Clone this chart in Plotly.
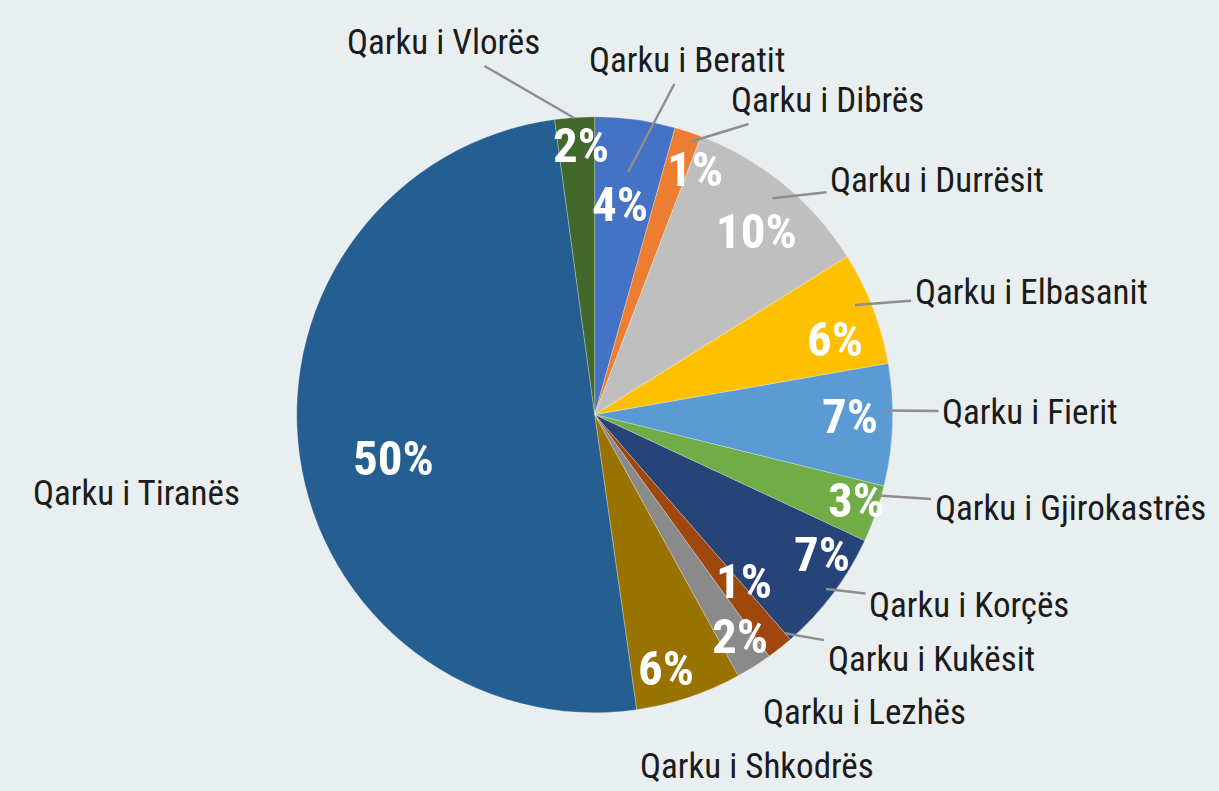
import numpy as np
import plotly.graph_objects as go

# ---------------- data ----------------
regions = ["Qarku i Beratit", "Qarku i Dibrës", "Qarku i Durrësit", "Qarku i Elbasanit",
           "Qarku i Fierit", "Qarku i Gjirokastrës", "Qarku i Korçës", "Qarku i Kukësit",
           "Qarku i Lezhës", "Qarku i Shkodrës", "Qarku i Tiranës", "Qarku i Vlorës"]
shares = [4.35, 1.45, 10.3, 6.15, 6.6, 3.1, 6.65, 1.45, 1.95, 5.75, 50.1, 2.15]

# ---------------- style ----------------
colors = ["#4472c4", "#ed7d31", "#bfbfbf", "#ffc000", "#5b9bd5", "#70ad47",
          "#264478", "#9e480e", "#8a8a8a", "#997300", "#255e91", "#43682b"]
W, H = 1219, 791
CX, CY, R = 594.7, 414.7, 298.0          # pie centre / radius in px
BG = "#e9eef1"

# percent-label placement (radial factor, angle shift in deg)
pct_rf = [0.709, 0.89, 0.82, 0.846, 0.857, 0.922, 0.895, 0.752, 0.891, 0.886, 0.692, 0.906]
pct_dt = [-0.9, 3.9, 1.9, 3.5, -1.5, -1.3, -5.5, -3.3, -0.9, 2.8, -4.2, 1.0]
# outside-label text centres (px) and leader-line anchors (radial factor, angle shift)
lab_xy = [(687, 60), (827, 100), (937, 180), (1031, 292), (1030, 412), (1070, 508),
          (969, 605), (931, 659), (864, 712), (757, 766), (136, 493), (443, 42)]
lead_rf = [0.823, 0.971, 0.94, 0.948, 0.974, 0.978, 0.972, 0.972, None, None, None, 0.997]
lead_dt = [0.0, 1.1, 0.0, -1.9, -2.8, -3.4, 0.0, -2.6, 0, 0, 0, 0.0]

vals = np.array(shares, dtype=float)
total = vals.sum()
start = np.cumsum(vals) - vals
mid_deg = (start + vals / 2) / total * 360.0
pct_text = [f"{int(round(v / total * 100))}%" for v in vals]


def polar(rf, deg):
    t = np.radians(deg)
    return CX + rf * R * np.sin(t), CY - rf * R * np.cos(t)


fig = go.Figure()
fig.add_trace(go.Pie(
    labels=regions, values=shares, sort=False, direction="clockwise", rotation=0,
    marker=dict(colors=colors, line=dict(color="rgba(255,255,255,0.45)", width=0.6)),
    textinfo="none", hoverinfo="label+percent", showlegend=False,
    domain=dict(x=[(CX - R) / W, (CX + R) / W], y=[1 - (CY + R) / H, 1 - (CY - R) / H]),
))
fig.add_trace(go.Scatter(x=[], y=[], showlegend=False, hoverinfo="skip"))

FONT = "Roboto Condensed, Roboto, Liberation Sans, sans-serif"
annotations = []
pct_font = dict(family=FONT, size=49, color="white", weight="bold")
lab_font = dict(family=FONT, size=35, color="#1b1b1b")
for i in range(len(regions)):
    px, py = polar(pct_rf[i], mid_deg[i] + pct_dt[i])
    annotations.append(dict(x=px, y=py, xref="x", yref="y", text=pct_text[i],
                            showarrow=False, font=pct_font, xanchor="center", yanchor="middle"))
    tx, ty = lab_xy[i]
    if lead_rf[i] is None:
        annotations.append(dict(x=tx, y=ty, xref="x", yref="y", text=regions[i],
                                showarrow=False, font=lab_font, xanchor="center", yanchor="middle"))
    else:
        hx, hy = polar(lead_rf[i], mid_deg[i] + lead_dt[i])
        annotations.append(dict(x=hx, y=hy, xref="x", yref="y", ax=tx, ay=ty,
                                axref="x", ayref="y", text=regions[i], showarrow=True,
                                arrowhead=0, arrowwidth=2.5, arrowcolor="#8e8e8e",
                                standoff=0, borderpad=3, font=lab_font))

fig.update_layout(
    width=W, height=H, margin=dict(l=0, r=0, t=0, b=0),
    paper_bgcolor=BG, plot_bgcolor=BG,
    xaxis=dict(range=[0, W], visible=False, fixedrange=True, domain=[0, 1]),
    yaxis=dict(range=[H, 0], visible=False, fixedrange=True, domain=[0, 1]),
    annotations=annotations,
)
fig.write_html("out.html", config={"displayModeBar": False},
               post_script="document.body.style.margin='0';document.body.style.background='%s';" % BG)
